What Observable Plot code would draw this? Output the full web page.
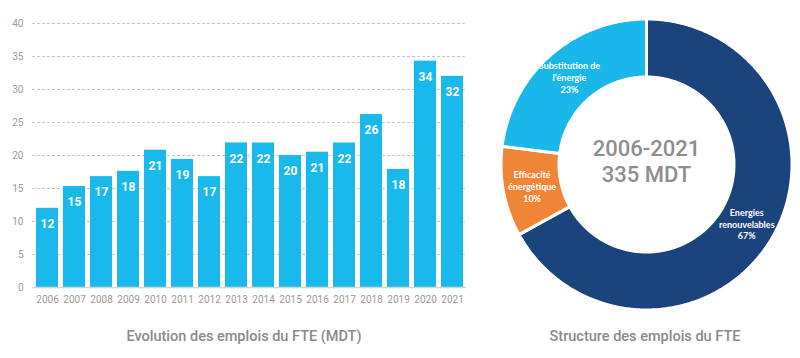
<!DOCTYPE html>
<html><head><meta charset="utf-8">
<script src="https://cdn.jsdelivr.net/npm/d3@7"></script>
<script src="https://cdn.jsdelivr.net/npm/@observablehq/plot@0.6"></script>
<style>
body{margin:0;background:#fff;font-family:Roboto,sans-serif;}
#wrap{position:relative;width:800px;height:358px;overflow:hidden;background:#fff;}
#bars{position:absolute;left:0;top:0;}
#donut{position:absolute;left:480px;top:0;}
.cap{position:absolute;top:326px;font-size:14.5px;color:#8a8a8a;font-weight:500;text-align:center;line-height:22px;white-space:nowrap;}
</style></head><body>
<div id="wrap">
<div id="bars"></div><div id="donut"></div>
<div class="cap" style="left:84px;width:320px">Evolution des emplois du FTE (MDT)</div>
<div class="cap" style="left:485px;width:320px">Structure des emplois du FTE</div>
</div>
<script>
const years = [2006,2007,2008,2009,2010,2011,2012,2013,2014,2015,2016,2017,2018,2019,2020,2021];
const values = [12.0,15.3,16.8,17.6,20.8,19.4,16.8,21.9,21.9,20.0,20.5,21.9,26.2,17.9,34.3,32.0];
const valueLabels = ["12","15","17","18","21","19","17","22","22","20","21","22","26","18","34","32"];
const yTicks = [0,5,10,15,20,25,30,35,40];

const sliceNames = ["Energies renouvelables","Efficacité énergétique","Substitution de l'énergie"];
const sliceLabels = ["Energies\nrenouvelables","Efficacité\nénergétique","Substitution de\nl'énergie"];
const sliceShares = [67,10,23];
const sliceColors = ["#1b437c","#ef8536","#1ab8ea"];
const centerLabel = "2006-2021\n335 MDT";

// Bar chart
const barData = years.map((y,i)=>({year:String(y), value:values[i], label:valueLabels[i]}));
const bars = Plot.plot({
  width:480, height:312, marginLeft:32, marginRight:14, marginTop:23, marginBottom:25,
  style:{fontFamily:"Roboto, sans-serif", fontSize:"10px", color:"#9a9a9a", background:"transparent", maxWidth:"none"},
  x:{domain:years.map(String), paddingInner:0.19, paddingOuter:0.1, label:null, axis:null},
  y:{domain:[0,40], label:null, axis:null},
  marks:[
    Plot.ruleY(yTicks.filter(d=>d>0), {stroke:"#c6c6c6", strokeDasharray:"3,2", strokeWidth:1}),
    Plot.barY(barData, {x:"year", y:"value", fill:"#19b9ec"}),
    Plot.ruleY([0], {stroke:"#d4d4d4", strokeWidth:1.5}),
    Plot.text(barData, {x:"year", y:"value", text:"label", dy:16, fill:"white", fontWeight:"bold", fontSize:12, fontFamily:"Roboto, sans-serif"}),
    Plot.axisY(yTicks, {tickSize:0, tickPadding:9, label:null, fill:"#9a9a9a"}),
    Plot.axisX(years.map(String), {tickSize:0, tickPadding:8, label:null, fill:"#9a9a9a"})
  ]
});
document.getElementById("bars").append(bars);

// Donut
const Rpx = 145.5, cx = 166, cy = 164;
const r0 = 87.5/145.5;
const pie = d3.pie().sort(null).value(d=>d)(sliceShares);
const ringPts = [];
pie.forEach((p,i)=>{
  const n = Math.max(2, Math.ceil((p.endAngle-p.startAngle)/0.01));
  for(let k=0;k<=n;k++){const a=p.startAngle+(p.endAngle-p.startAngle)*k/n; ringPts.push({slice:sliceNames[i], x:Math.sin(a), y:Math.cos(a)});}
  for(let k=n;k>=0;k--){const a=p.startAngle+(p.endAngle-p.startAngle)*k/n; ringPts.push({slice:sliceNames[i], x:r0*Math.sin(a), y:r0*Math.cos(a)});}
});
const rl = (1+r0)/2;
const labelPts = pie.map((p,i)=>{const a=(p.startAngle+p.endAngle)/2; return {x:rl*Math.sin(a), y:rl*Math.cos(a), t:sliceLabels[i]+"\n"+sliceShares[i]+"%"};});

const donut = Plot.plot({
  width:320, height:312, margin:0,
  style:{background:"transparent", maxWidth:"none"},
  x:{domain:[-1,1], range:[cx-Rpx, cx+Rpx], axis:null},
  y:{domain:[-1,1], range:[cy+Rpx, cy-Rpx], axis:null},
  color:{domain:sliceNames, range:sliceColors},
  marks:[
    Plot.line(ringPts, {x:"x", y:"y", z:"slice", fill:"slice", stroke:"white", strokeWidth:3, curve:"linear-closed"}),
    Plot.text(labelPts, {x:"x", y:"y", text:"t", fill:"white", fontWeight:"bold", fontSize:9, fontFamily:"Lato, sans-serif", lineHeight:1.3}),
    Plot.text([{x:0,y:0,t:centerLabel}], {x:"x", y:"y", text:"t", fill:"#8e8e8e", fontSize:22, fontWeight:500, fontFamily:"Roboto, sans-serif", lineHeight:1.2, dy:-4})
  ]
});
document.getElementById("donut").append(donut);
</script>
</body></html>
